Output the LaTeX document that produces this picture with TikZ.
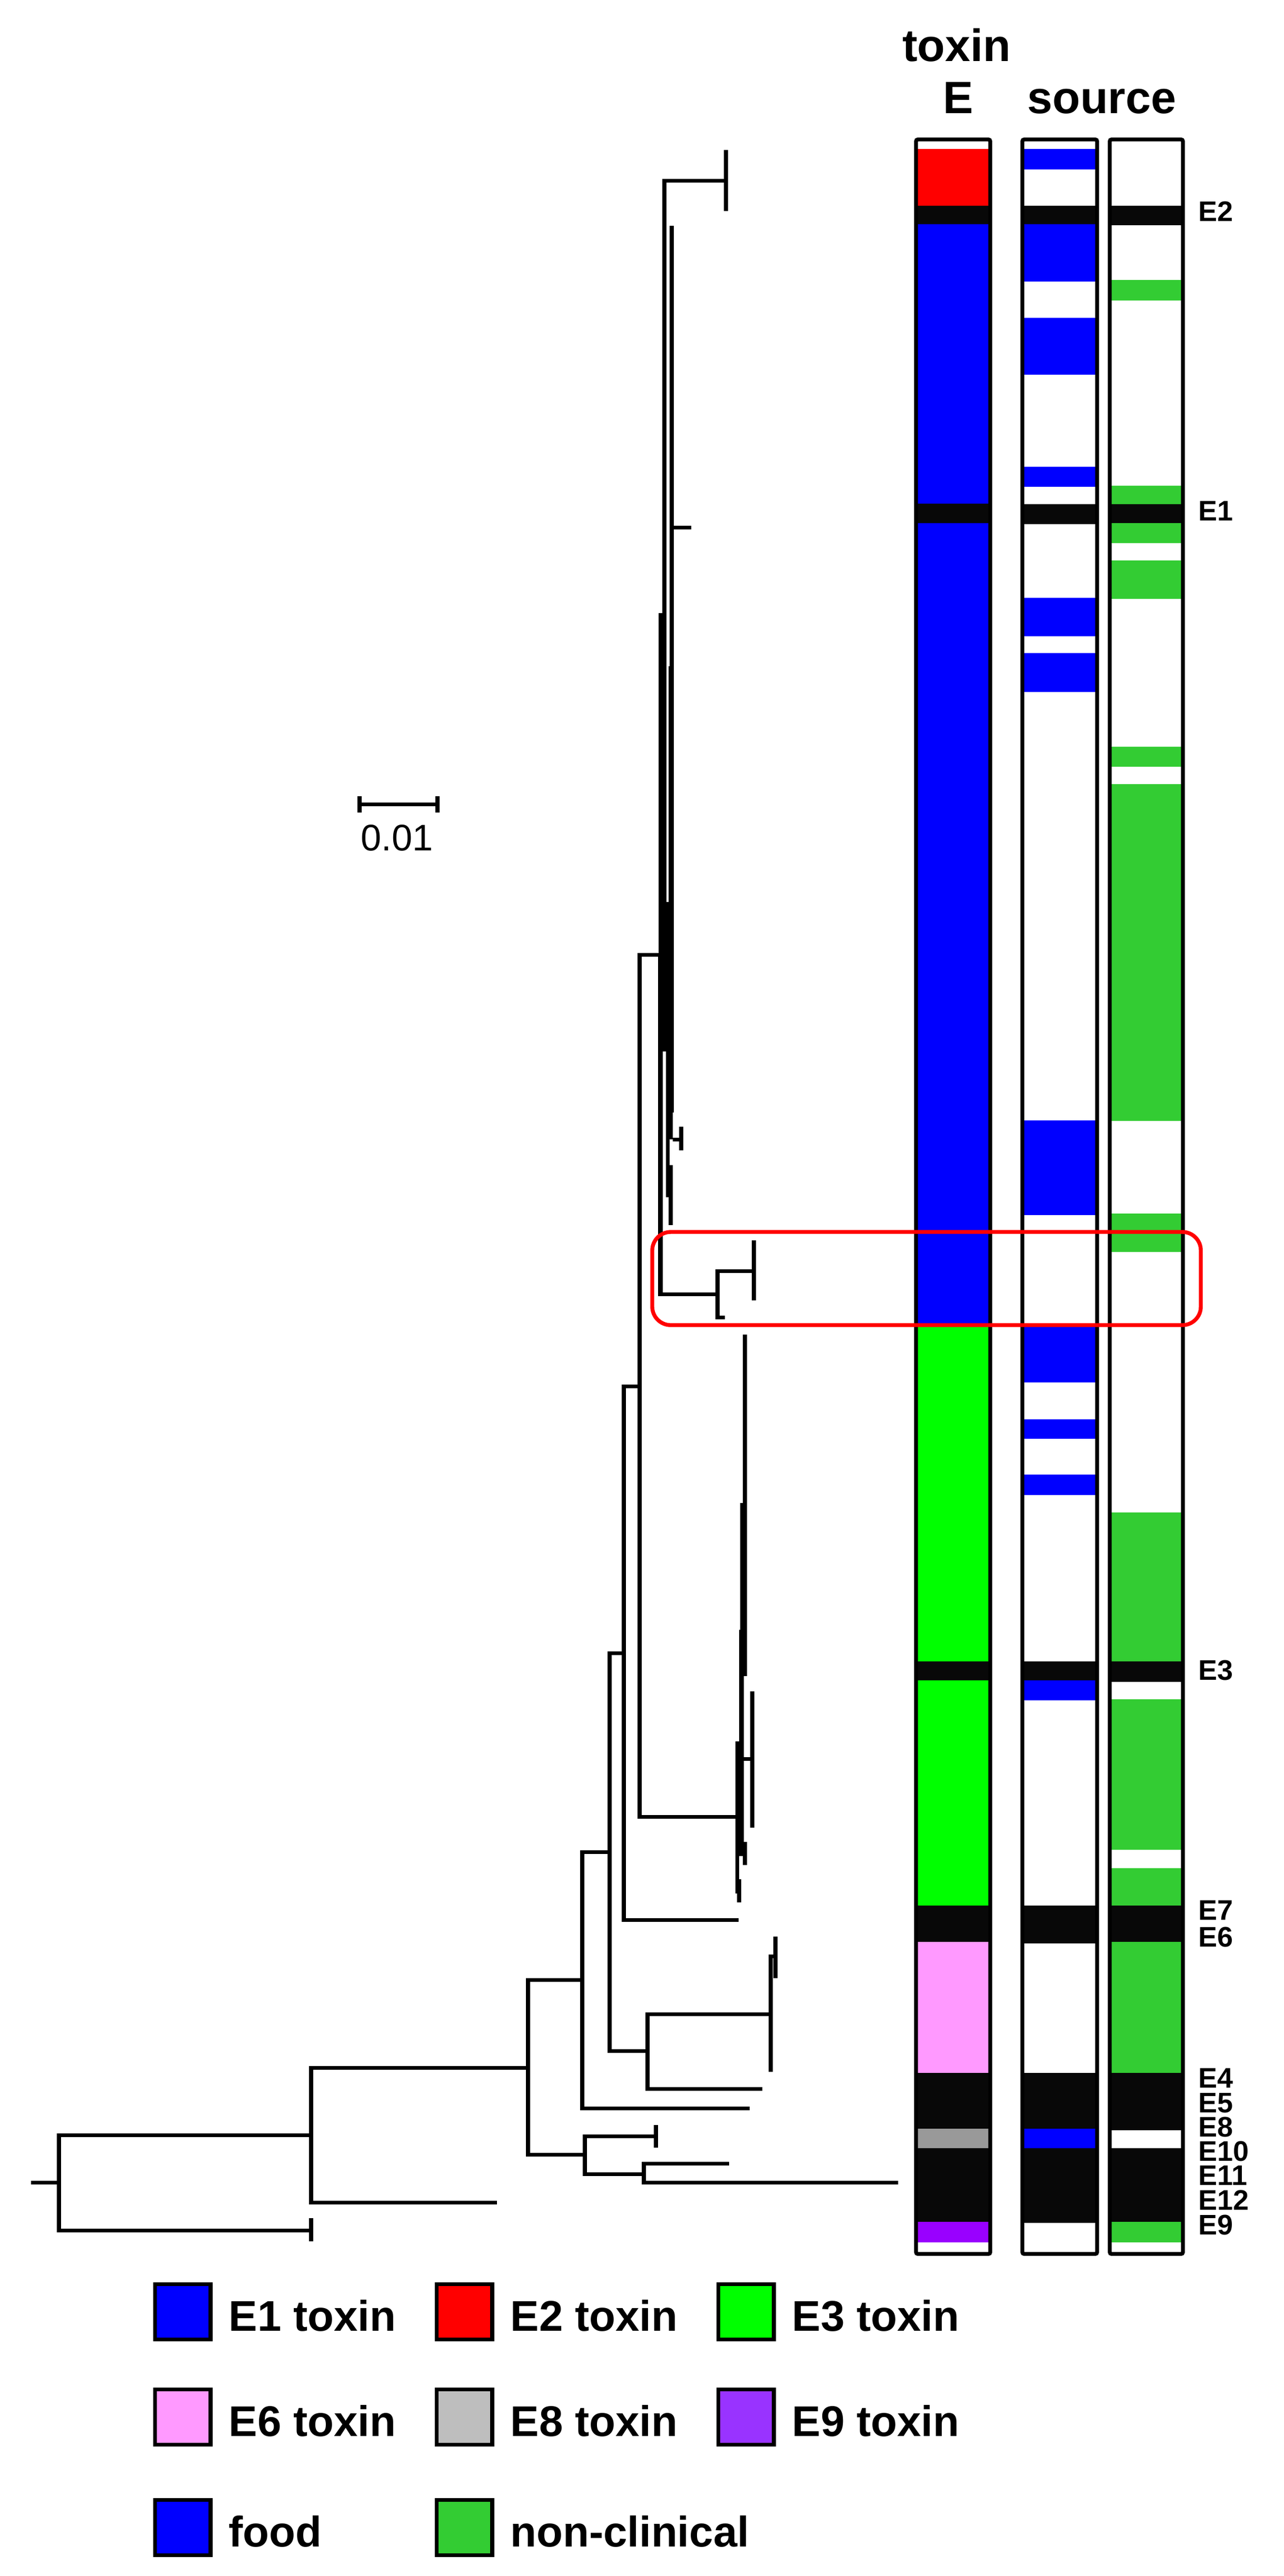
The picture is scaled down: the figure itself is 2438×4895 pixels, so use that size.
\documentclass[tikz,border=0pt]{standalone}
\usepackage{fontspec}
\setmainfont{Liberation Sans}
\definecolor{EOneClr}{rgb}{0,0,1}
\definecolor{ETwoClr}{rgb}{1,0,0}
\definecolor{EThreeClr}{rgb}{0,1,0}
\definecolor{ESixClr}{rgb}{1,0.6,1}
\definecolor{EEightBar}{rgb}{0.6,0.6,0.6}
\definecolor{EEightClr}{rgb}{0.745,0.745,0.745}
\definecolor{ENineBar}{rgb}{0.6,0,1}
\definecolor{ENineClr}{rgb}{0.6,0.2,1}
\definecolor{SoilClr}{rgb}{0.2,0.8,0.2}
\definecolor{NoneClr}{rgb}{0.03,0.03,0.03}
\tikzset{
  TreeLine/.style={line width=2pt,color=black},
  TickLine/.style={line width=2.2pt,color=black},
  BarFrame/.style={line width=2.1pt,color=black,rounded corners=1pt},
  HeadText/.style={anchor=base,inner sep=0pt,font=\fontsize{24.5}{24.5}\selectfont\bfseries},
  SideText/.style={anchor=base west,inner sep=0pt,font=\fontsize{15.3}{15.3}\selectfont\bfseries},
  KeyText/.style={anchor=base west,inner sep=0pt,font=\fontsize{23.2}{23.2}\selectfont\bfseries},
  KeyBox/.style={draw=black,line width=2pt}
}
\newcommand{\DrawBar}[3]{
  \fill[white] (#1,265) rectangle (#2,4283);
  \foreach \yA/\yB/\clr in {#3}
    \fill[\clr] (#1,\yA) rectangle (#2,\yB);
  \draw[BarFrame] (#1,265) rectangle (#2,4283);
}

\begin{document}
\begin{tikzpicture}[x=0.01cm,y=-0.01cm]
\useasboundingbox (0,0) rectangle (2438,4895);

\foreach \x/\y/\n in {59/4147/stem,112/4147/root,591/4057/nA,591/4215/tA,591/4259/tB,591/4238/nAb,
  944/4185/tC,1003/3929/nB,1106/3762/nC,1111/4094/nD,1246/4059/nE,1246/4038/tD,1246/4081/tF,
  1223/4131/nF,1385/4111/tG,1706/4147/tH,1424/4006/tI,1158/3519/nG,1185/3141/nH,1230/3897/nI,
  1448/3969/tJ,1464/3827/nJ,1464/3937/tK,1473/3717/nK,1473/3680/tL,1473/3759/tM,1403/3648/tN,
  1215/2634/nL,1399/3452/nM,1254/1814/nN,1363/2459/nO,1432/2415/nP,1432/2357/tO,1432/2471/tP,
  1377/2503/tQ,1262/1165/nQ,1379/343/nR,1379/285/tR,1379/401/tS,1276/1266/nS,1276/429/tT,
  1276/1002/nT,1313/1002/tU,1278/2165/nU,1294/2165/nV,1294/2141/tV,1294/2186/tW,1413/3342/nW,
  1429/3342/nX,1429/3214/tX,1429/3473/tY}
  \coordinate (\n) at (\x,\y);

\draw[TreeLine] (stem) -- (root);
\foreach \p/\c in {root/nA,root/nAb,nA/nB,nA/tC,nB/nC,nB/nD,nD/nE,nD/nF,nF/tG,nF/tH,nC/tI,nC/nG,
  nG/nH,nG/nI,nI/tJ,nI/nJ,nJ/nK,nH/tN,nH/nL,nL/nM,nL/nN,nN/nO,nO/nP,nO/tQ,nQ/nR}
  \draw[TreeLine] (\p) |- (\c);
\draw[TreeLine] (nJ) -- (tK);
\draw[TreeLine] (nS) -- (tT);
\draw[TreeLine] (nT) -- (tU);
\draw[TreeLine] (nU) -- (nV);
\draw[TreeLine] (nW) -- (nX);
\foreach \a/\b in {tA/tB,tD/tF,tL/tM,tO/tP,tR/tS,tV/tW,tX/tY}
  \draw[TreeLine] (\a) -- (\b);

\foreach \xA/\yA/\xB/\yB in {1259/1165/1266/1714,1251/1165/1266/1714,1272/429/1280/1266,
  1270/1266/1280/1714,1251/1714/1280/1998,1251/1998/1259/2459,1265/1998/1280/2114,
  1265/2114/1278/2165,1265/2165/1272/2275,1270/2214/1278/2328,1411/2536/1419/2856,
  1406/2856/1419/3097,1404/3097/1419/3185,1404/3185/1413/3309,1397/3309/1413/3500,
  1397/3500/1419/3527,1411/3527/1419/3544,1397/3527/1404/3598,1400/3571/1408/3615}
  \fill[black] (\xA,\yA) rectangle (\xB,\yB);

\coordinate (sbL) at (683,1528);
\coordinate (sbR) at (831,1528);
\coordinate (sbLa) at (683,1513);
\coordinate (sbLb) at (683,1544);
\coordinate (sbRa) at (831,1513);
\coordinate (sbRb) at (831,1544);
\draw[TreeLine] (sbL) -- (sbR);
\draw[TickLine] (sbLa) -- (sbLb);
\draw[TickLine] (sbRa) -- (sbRb);
\node[anchor=base,inner sep=0pt,font=\fontsize{20}{20}\selectfont] (sbText) at (754,1616) {0.01};

\DrawBar{1740}{1881}{283/391/ETwoClr,391/426/NoneClr,426/957/EOneClr,957/994/NoneClr,994/2520/EOneClr,
  2520/3157/EThreeClr,3157/3193/NoneClr,3193/3621/EThreeClr,3621/3690/NoneClr,3690/3939/ESixClr,
  3939/4045/NoneClr,4045/4082/EEightBar,4082/4222/NoneClr,4222/4261/ENineBar}
\DrawBar{1942}{2084}{283/322/EOneClr,391/426/NoneClr,426/535/EOneClr,604/712/EOneClr,887/925/EOneClr,
  958/996/NoneClr,1136/1209/EOneClr,1241/1315/EOneClr,2129/2309/EOneClr,2520/2627/EOneClr,
  2697/2734/EOneClr,2802/2841/EOneClr,3157/3193/NoneClr,3193/3231/EOneClr,3621/3693/NoneClr,
  3939/4045/NoneClr,4045/4082/EOneClr,4082/4224/NoneClr}
\DrawBar{2108}{2247}{391/428/NoneClr,532/571/SoilClr,923/958/SoilClr,958/994/NoneClr,994/1032/SoilClr,
  1065/1138/SoilClr,1419/1457/SoilClr,1490/2130/SoilClr,2306/2379/SoilClr,2874/3157/SoilClr,
  3157/3196/NoneClr,3229/3515/SoilClr,3550/3621/SoilClr,3621/3690/NoneClr,3690/3939/SoilClr,
  3939/4048/NoneClr,4082/4222/NoneClr,4222/4261/SoilClr}

\draw[color=red,line width=2.1pt,rounded corners=0.35cm] (1239,2341) rectangle (2281,2518);

\node[HeadText] (headToxin) at (1817,116) {toxin};
\node[HeadText] (headE) at (1820,215) {E};
\node[HeadText] (headSource) at (2093,215) {source};

\foreach \y/\t in {420/E2,989/E1,3192/E3,3648/E7,3699/E6,3967/E4,4014/E5,4060/E8,4106/E10,4152/E11,4199/E12,4246/E9}
  \node[SideText] (side\t) at (2276,\y) {\t};

\foreach \x/\y/\clr/\t/\n in {291/4337/EOneClr/E1 toxin/a,826/4337/ETwoClr/E2 toxin/b,1361/4337/EThreeClr/E3 toxin/c,
  291/4537/ESixClr/E6 toxin/d,826/4537/EEightClr/E8 toxin/e,1361/4537/ENineClr/E9 toxin/f,
  291/4747/EOneClr/food/g,826/4747/SoilClr/non-clinical/h}{
  \draw[KeyBox,fill=\clr] (\x+3.5,\y+3.5) rectangle (\x+109,\y+108);
  \node[KeyText] (key\n) at (\x+143,\y+92) {\t};
}
\end{tikzpicture}
\end{document}
